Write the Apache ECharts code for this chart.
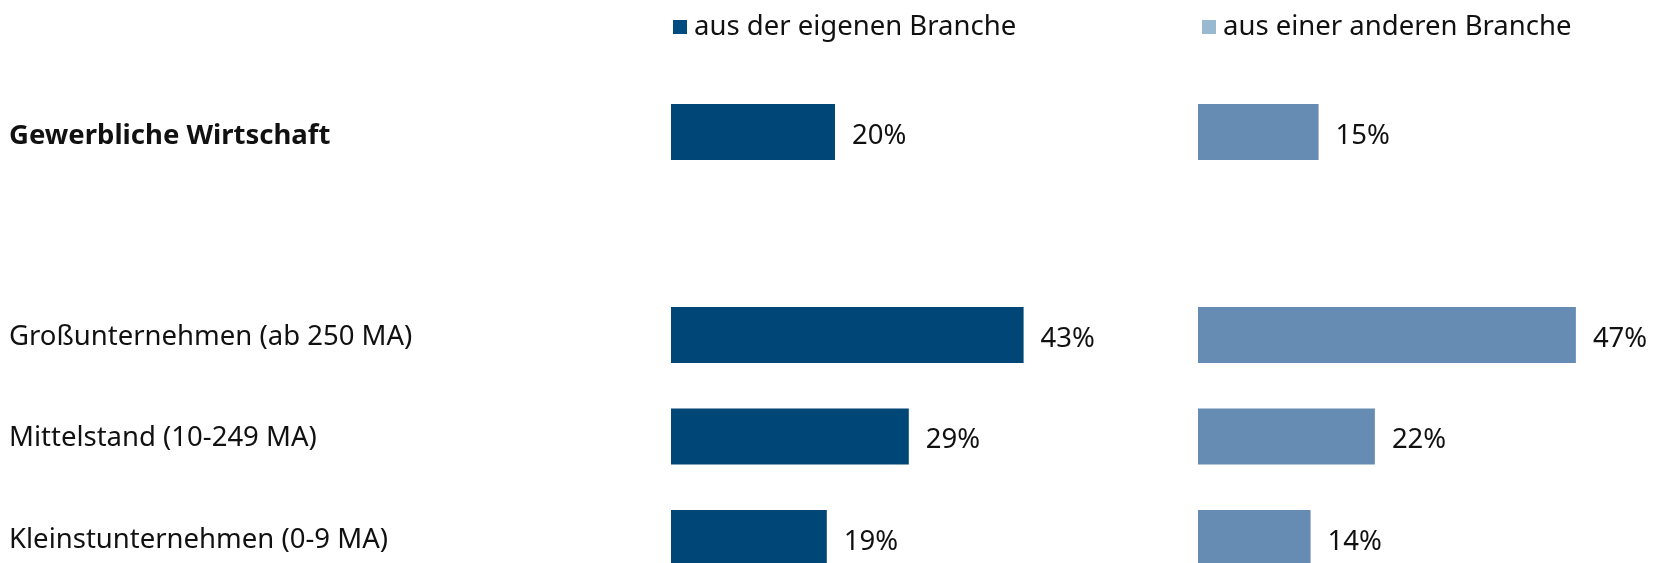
<!DOCTYPE html>
<html>
<head>
<meta charset="utf-8">
<script src="https://cdn.jsdelivr.net/npm/echarts@6/dist/echarts.min.js"></script>
<style>
html,body{margin:0;padding:0;background:#fff;}
#chart{width:1665px;height:563px;}
</style>
</head>
<body>
<div id="chart"></div>
<script>
const categories = ['Gewerbliche Wirtschaft', '', 'Großunternehmen (ab 250 MA)', 'Mittelstand (10-249 MA)', 'Kleinstunternehmen (0-9 MA)'];
const seriesNames = ['aus der eigenen Branche', 'aus einer anderen Branche'];
const ownBranch = [20, null, 43, 29, 19];
const otherBranch = [15, null, 47, 22, 14];

const FONT = '"Noto Sans", "Open Sans", sans-serif';
const FS = 27.5;
const darkBar = '#004677';
const lightBar = '#678cb3';
const darkLegend = '#004b7f';
const lightLegend = '#98b9d0';

const chart = echarts.init(document.getElementById('chart'));

const gridTop = 81.25, gridHeight = 507.5;

function labelCfg() {
  return {
    show: true, position: 'right', distance: 17, offset: [0, 4],
    formatter: p => p.value + '%',
    fontFamily: FONT, fontSize: FS, color: '#111'
  };
}

chart.setOption({
  animation: false,
  backgroundColor: '#fff',
  textStyle: { fontFamily: FONT },
  legend: [
    {
      left: 668, top: 8, icon: 'rect', itemWidth: 14, itemHeight: 14, itemGap: 0,
      textStyle: { fontFamily: FONT, fontSize: FS, color: '#111', padding: [0, 0, 0, 2] },
      data: [{ name: seriesNames[0], itemStyle: { color: darkLegend } }],
      selectedMode: false
    },
    {
      left: 1197, top: 8, icon: 'rect', itemWidth: 14, itemHeight: 14, itemGap: 0,
      textStyle: { fontFamily: FONT, fontSize: FS, color: '#111', padding: [0, 0, 0, 2] },
      data: [{ name: seriesNames[1], itemStyle: { color: lightLegend } }],
      selectedMode: false
    }
  ],
  grid: [
    { left: 671, top: gridTop, width: 410, height: gridHeight, containLabel: false, outerBoundsMode: 'none' },
    { left: 1198, top: gridTop, width: 402, height: gridHeight, containLabel: false, outerBoundsMode: 'none' }
  ],
  xAxis: [
    { type: 'value', gridIndex: 0, min: 0, max: 50, show: false },
    { type: 'value', gridIndex: 1, min: 0, max: 50, show: false }
  ],
  yAxis: [
    {
      type: 'category', gridIndex: 0, inverse: true, data: categories,
      axisLine: { show: false }, axisTick: { show: false },
      axisLabel: {
        align: 'left', margin: 662, fontFamily: FONT, fontSize: FS, color: '#111',
        formatter: (v, i) => v === '' ? '' : (i === 0 ? '{b|' + v + '}' : '{r|' + v + '}'),
        rich: {
          b: { fontFamily: FONT, fontSize: FS, fontWeight: 'bold', color: '#111', padding: [8, 0, 0, 0] },
          r: { fontFamily: FONT, fontSize: FS, color: '#111', padding: [4, 0, 0, 0] }
        }
      }
    },
    {
      type: 'category', gridIndex: 1, inverse: true, data: categories,
      axisLine: { show: false }, axisTick: { show: false }, axisLabel: { show: false }
    }
  ],
  series: [
    {
      name: seriesNames[0], type: 'bar', xAxisIndex: 0, yAxisIndex: 0,
      data: ownBranch, barWidth: 56, itemStyle: { color: darkBar },
      label: labelCfg()
    },
    {
      name: seriesNames[1], type: 'bar', xAxisIndex: 1, yAxisIndex: 1,
      data: otherBranch, barWidth: 56, itemStyle: { color: lightBar },
      label: labelCfg()
    }
  ]
});
</script>
</body>
</html>
